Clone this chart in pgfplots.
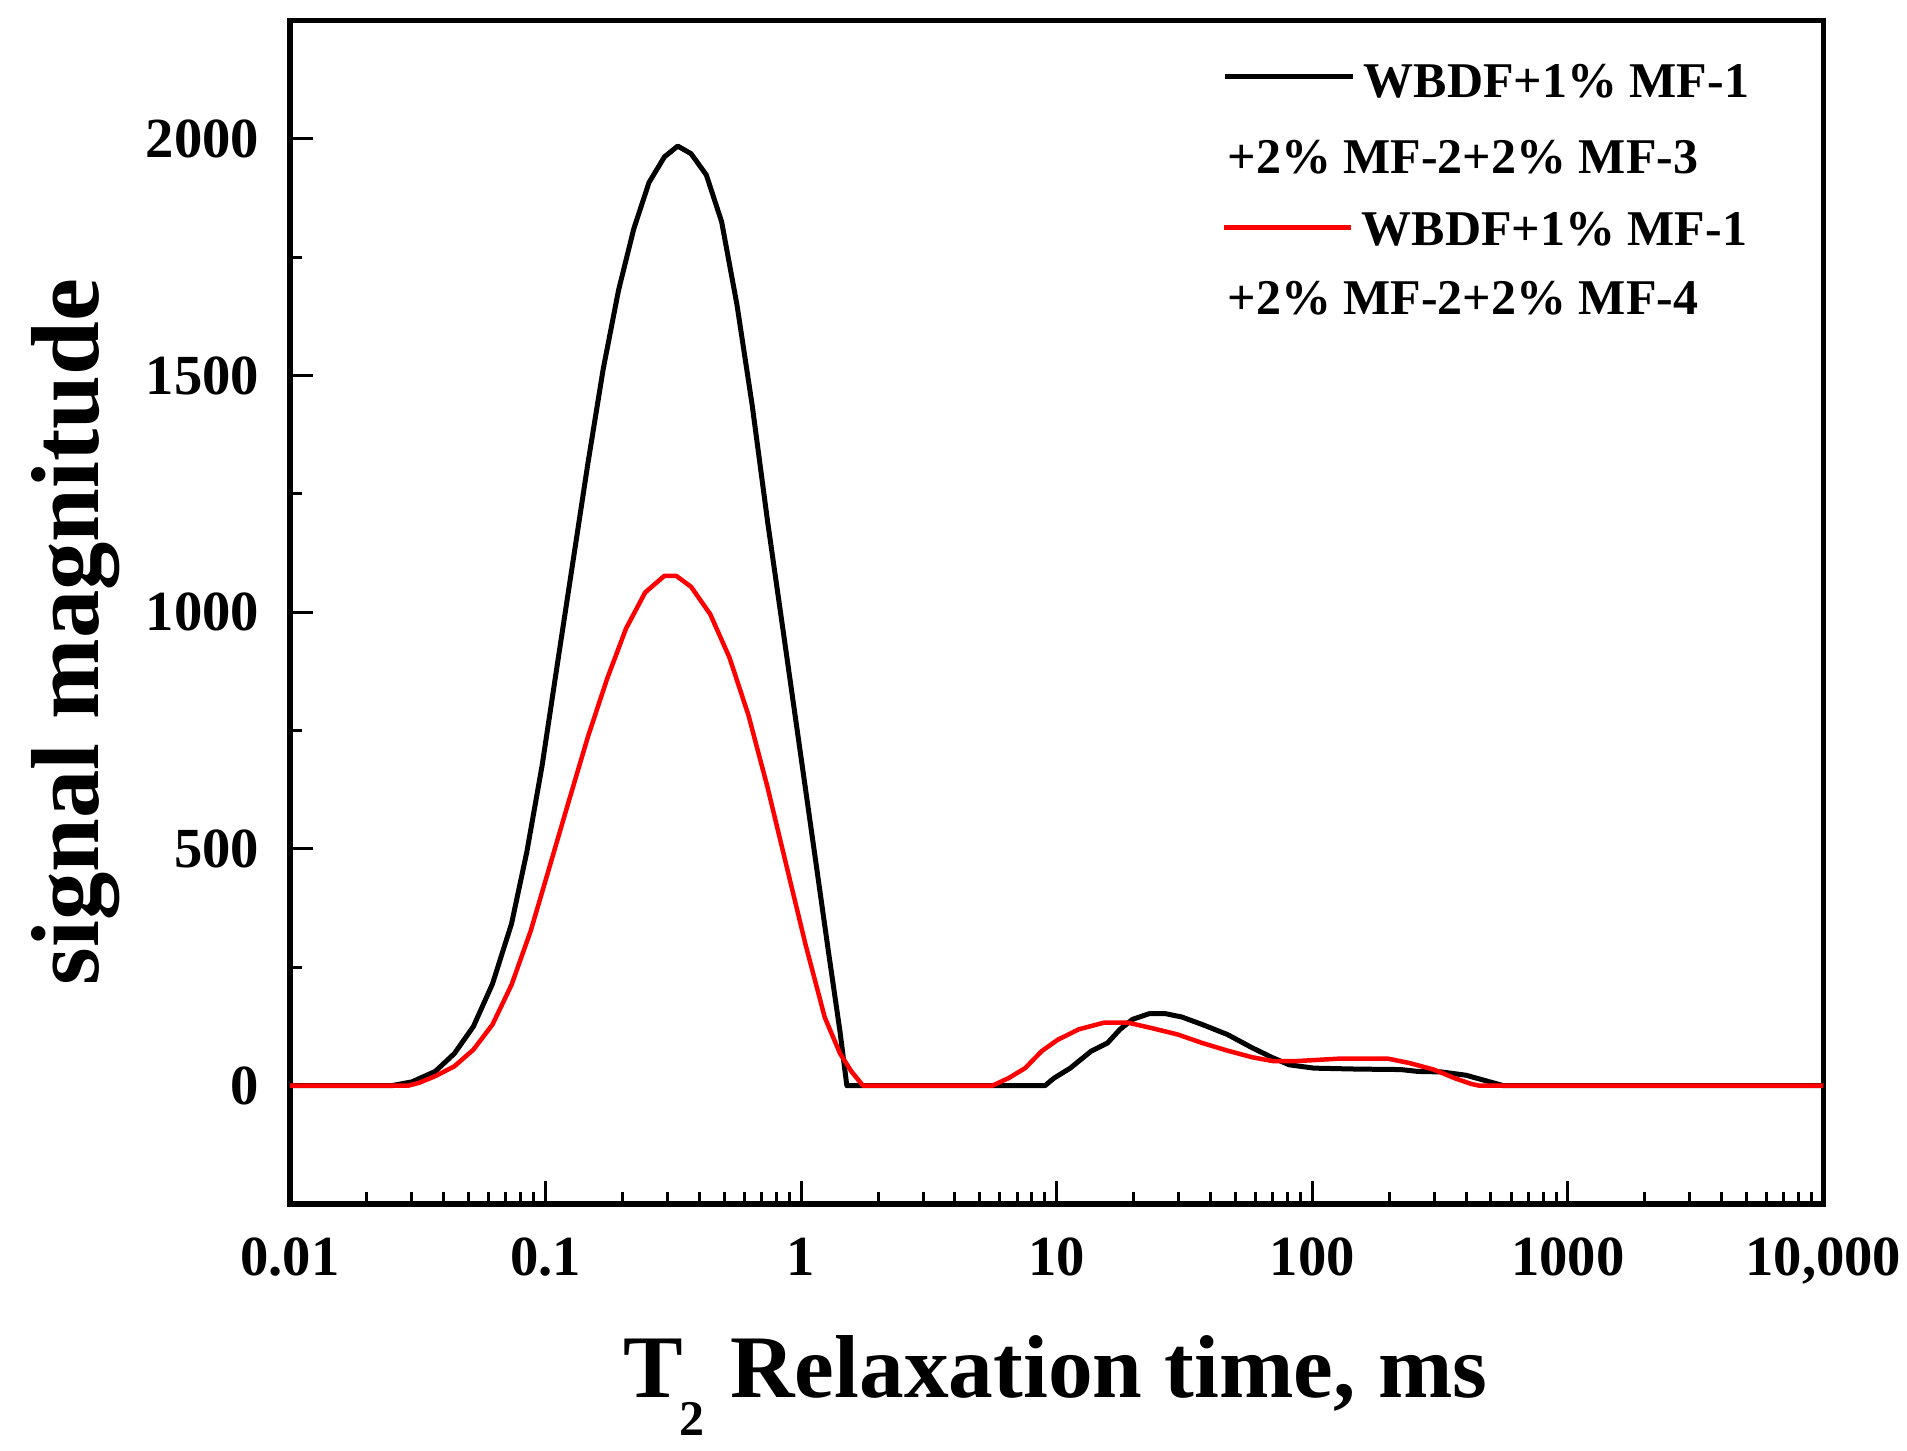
\documentclass[border=0pt]{standalone}
\usepackage{pgfplots}
\pgfplotsset{compat=1.18}
\usepackage{pgfplotstable}
\usepackage{fontspec}
\setmainfont{Liberation Serif}

\pgfplotstableread{
x y
0.01 0
0.025 0
0.030 8
0.037 30
0.044 68
0.0522 125
0.062 215
0.0736 342
0.0845 494
0.097 677
0.1112 890
0.1276 1102
0.1465 1315
0.168 1513
0.193 1680
0.2214 1810
0.254 1908
0.2917 1962
0.329 1985
0.371 1969
0.4258 1924
0.4887 1825
0.561 1650
0.6438 1437
0.7385 1194
0.848 966
0.973 738
1.117 509
1.281 281
1.42 114
1.51 0
9.0 0
9.77 16
11.3 37
13.65 73
15.8 90
17.7 119
19.8 140
23 152
26.7 152
30.9 145
37.2 129
46.6 108
58.2 80
70 59
81.3 44
101.6 37
150 35
222 34
260 30
320 29
400 22
466 12
560 0
10000 0
}\blackdata

\pgfplotstableread{
x y
0.01 0
0.029 0
0.032 6
0.037 20
0.044 41
0.0522 76
0.062 129
0.0736 213
0.0875 327
0.1039 464
0.1233 601
0.1465 737
0.174 859
0.2066 966
0.2454 1042
0.2917 1077
0.3247 1077
0.371 1054
0.441 996
0.524 905
0.622 783
0.7385 631
0.877 464
1.042 297
1.238 144
1.42 68
1.574 30
1.746 0
5.6 0
6.49 16
7.53 37
8.74 73
10.1 97
12.2 119
15.3 133
19.05 133
23.8 121
29.8 108
37.2 90
46.6 74
58.2 60
70 52
87.5 52
127 57
198 57
239 48
299 34
360 16
417 4
450 0
10000 0
}\reddata

\begin{document}
\begin{tikzpicture}
\begin{axis}[
  scale only axis,
  width=460pt, height=355pt,
  xmode=log,
  xmin=0.01, xmax=10000,
  ymin=-250, ymax=2250,
  xtick={0.01,0.1,1,10,100,1000,10000},
  xticklabels={0.01,0.1,1,10,100,1000,{10,000}},
  ytick={0,500,1000,1500,2000},
  yticklabels={0,500,1000,1500,2000},
  minor ytick={-250,250,750,1250,1750,2250},
  xtick pos=bottom, ytick pos=left,
  tick align=inside,
  major tick length=6.9pt,
  minor tick length=3.5pt,
  every tick/.style={black, line width=0.9pt},
  axis line style={line width=1.6pt},
  /pgf/number format/assume math mode=true,
  /pgf/number format/1000 sep={},
  ticklabel style={font=\fontsize{17}{17}\selectfont\bfseries},
  xticklabel style={anchor=north, inner sep=0pt, yshift=-10pt},
  yticklabel style={anchor=east, inner sep=0pt, xshift=-9pt},
  xlabel={T\kern-1pt\raisebox{-11.5pt}{\fontsize{15}{15}\selectfont 2}\kern1pt{} Relaxation time, ms},
  ylabel={signal magnitude},
  xlabel style={font=\fontsize{26.8}{26.8}\selectfont\bfseries, at={(axis description cs:0.2171,-0.1634)}, anchor=base west, inner sep=0pt},
  ylabel style={font=\fontsize{29}{29}\selectfont\bfseries, at={(axis description cs:-0.1246,0.4834)}, anchor=base, inner sep=0pt},
  clip=true,
]
\addplot[black, line width=1.5pt, line join=round] table[x=x,y=y] {\blackdata};
\addplot[red, line width=1.35pt, line join=round] table[x=x,y=y] {\reddata};
\draw[black, line width=1.6pt] (rel axis cs:0.6099,0.9526) -- (rel axis cs:0.6934,0.9526);
\draw[red, line width=1.6pt] (rel axis cs:0.6090,0.8251) -- (rel axis cs:0.6922,0.8251);
\node[anchor=base west, inner sep=0pt, font=\fontsize{15}{15}\selectfont\bfseries] at (rel axis cs:0.6998,0.9354) {WBDF+1\% MF-1};
\node[anchor=base west, inner sep=0pt, font=\fontsize{15}{15}\selectfont\bfseries] at (rel axis cs:0.6110,0.8709) {+2\% MF-2+2\% MF-3};
\node[anchor=base west, inner sep=0pt, font=\fontsize{15}{15}\selectfont\bfseries] at (rel axis cs:0.6985,0.8097) {WBDF+1\% MF-1};
\node[anchor=base west, inner sep=0pt, font=\fontsize{15}{15}\selectfont\bfseries] at (rel axis cs:0.6110,0.7515) {+2\% MF-2+2\% MF-4};
\end{axis}
\pgfresetboundingbox
\path[use as bounding box] (-87pt,-74.1pt) rectangle (485.1pt,361.2pt);
\end{tikzpicture}
\end{document}
